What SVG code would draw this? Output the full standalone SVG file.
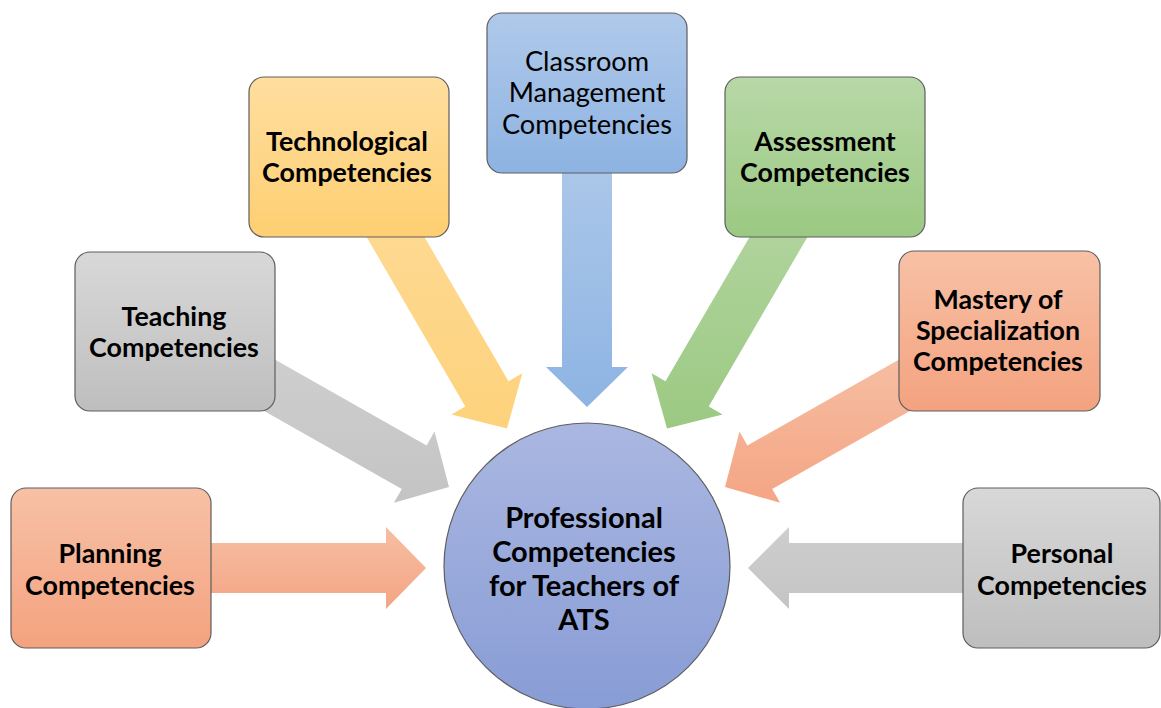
<svg xmlns="http://www.w3.org/2000/svg" width="1161" height="708" viewBox="0 0 1161 708">
  <defs>
    <linearGradient id="gOrange" x1="0" y1="0" x2="0" y2="1"><stop offset="0" stop-color="#F7C1A6"/><stop offset="1" stop-color="#F4A27F"/></linearGradient>
    <linearGradient id="gGray" x1="0" y1="0" x2="0" y2="1"><stop offset="0" stop-color="#D8D8D8"/><stop offset="1" stop-color="#BEBEBE"/></linearGradient>
    <linearGradient id="gYellow" x1="0" y1="0" x2="0" y2="1"><stop offset="0" stop-color="#FFDE9F"/><stop offset="1" stop-color="#FECF72"/></linearGradient>
    <linearGradient id="gBlue" x1="0" y1="0" x2="0" y2="1"><stop offset="0" stop-color="#B0C9EA"/><stop offset="1" stop-color="#8DB3E2"/></linearGradient>
    <linearGradient id="gGreen" x1="0" y1="0" x2="0" y2="1"><stop offset="0" stop-color="#B8D8A7"/><stop offset="1" stop-color="#9BC982"/></linearGradient>
    <linearGradient id="gCircle" x1="0" y1="0" x2="0" y2="1"><stop offset="0" stop-color="#AAB7E1"/><stop offset="1" stop-color="#889CD5"/></linearGradient>

    <linearGradient id="aOrange" x1="0" y1="0" x2="0" y2="1"><stop offset="0" stop-color="#F6BEA2"/><stop offset="1" stop-color="#F4A584"/></linearGradient>
    <linearGradient id="aGray" x1="0" y1="0" x2="0" y2="1"><stop offset="0" stop-color="#CECECE"/><stop offset="1" stop-color="#C4C4C4"/></linearGradient>
    <linearGradient id="aYellow" x1="0" y1="0" x2="0" y2="1"><stop offset="0" stop-color="#FEDA94"/><stop offset="1" stop-color="#FDD27C"/></linearGradient>
    <linearGradient id="aBlue" x1="0" y1="0" x2="0" y2="1"><stop offset="0" stop-color="#ABC7E9"/><stop offset="1" stop-color="#8EB4E3"/></linearGradient>
    <linearGradient id="aGreen" x1="0" y1="0" x2="0" y2="1"><stop offset="0" stop-color="#B3D5A0"/><stop offset="1" stop-color="#9BC982"/></linearGradient>
  </defs>
  <style>
    .box { stroke: #5E5E5E; stroke-width: 1.2; }
    .lbl { font-family: Lato, "Liberation Sans", sans-serif; font-size: 26.8px; font-weight: bold; fill: #000; text-anchor: middle; }
    .reg { font-weight: normal; font-size: 27.2px; }
    .hub { font-size: 29px; }
  </style>

  <rect width="1161" height="708" fill="#FFFFFF"/>

  <!-- converging arrows, drawn under the boxes -->
  <g id="connectors">
    <polygon fill="url(#aOrange)" points="205,543 386,543 386,527 426,568 386,609 386,593 205,593"/>
    <polygon fill="url(#aGray)" points="245.2,400.2 401.8,488.9 393.9,502.8 449,487 434.5,431.6 426.6,445.5 270,356.8"/>
    <polygon fill="url(#aYellow)" points="362.6,230.2 465.3,406.5 451.4,414.5 507,428.5 522.4,373.3 508.5,381.3 405.8,205"/>
    <polygon fill="url(#aBlue)" points="562,167 562,367 546,367 587,407 628,367 612,367 612,167"/>
    <polygon fill="url(#aGreen)" points="811.4,230.2 708.7,406.5 722.6,414.5 667,428.5 651.6,373.3 665.5,381.3 768.2,205"/>
    <polygon fill="url(#aOrange)" points="928.8,400.2 772.2,488.9 780.1,502.8 725,487 739.5,431.6 747.4,445.5 904,356.8"/>
    <polygon fill="url(#aGray)" points="969,543 789,543 789,527 748,568 789,609 789,593 969,593"/>
  </g>

  <g id="planning">
    <rect class="box" x="11" y="488" width="200" height="160" rx="15" fill="url(#gOrange)"/>
    <text class="lbl" x="110" y="563">Planning</text>
    <text class="lbl" x="110" y="595">Competencies</text>
  </g>

  <g id="teaching">
    <rect class="box" x="75" y="252" width="200" height="159" rx="15" fill="url(#gGray)"/>
    <text class="lbl" x="174" y="326">Teaching</text>
    <text class="lbl" x="174" y="357">Competencies</text>
  </g>

  <g id="technological">
    <rect class="box" x="249" y="77" width="200" height="160" rx="15" fill="url(#gYellow)"/>
    <text class="lbl" x="347" y="151">Technological</text>
    <text class="lbl" x="347" y="182">Competencies</text>
  </g>

  <g id="classroom">
    <rect class="box" x="487" y="13" width="200" height="160" rx="15" fill="url(#gBlue)"/>
    <text class="lbl reg" x="587" y="71">Classroom</text>
    <text class="lbl reg" x="587" y="102">Management</text>
    <text class="lbl reg" x="587" y="134">Competencies</text>
  </g>

  <g id="assessment">
    <rect class="box" x="725" y="77" width="200" height="160" rx="15" fill="url(#gGreen)"/>
    <text class="lbl" x="825" y="151">Assessment</text>
    <text class="lbl" x="825" y="182">Competencies</text>
  </g>

  <g id="mastery">
    <rect class="box" x="899" y="251" width="201" height="160" rx="15" fill="url(#gOrange)"/>
    <text class="lbl" x="998" y="309">Mastery of</text>
    <text class="lbl" x="998" y="340">Specialization</text>
    <text class="lbl" x="998" y="371">Competencies</text>
  </g>

  <g id="personal">
    <rect class="box" x="963" y="488" width="197" height="160" rx="15" fill="url(#gGray)"/>
    <text class="lbl" x="1062" y="563">Personal</text>
    <text class="lbl" x="1062" y="595">Competencies</text>
  </g>

  <g id="hub">
    <circle class="box" cx="587" cy="566" r="143" fill="url(#gCircle)"/>
    <text class="lbl hub" x="584" y="528">Professional</text>
    <text class="lbl hub" x="584" y="562">Competencies</text>
    <text class="lbl hub" x="584" y="596">for Teachers of</text>
    <text class="lbl hub" x="584" y="630">ATS</text>
  </g>
</svg>
